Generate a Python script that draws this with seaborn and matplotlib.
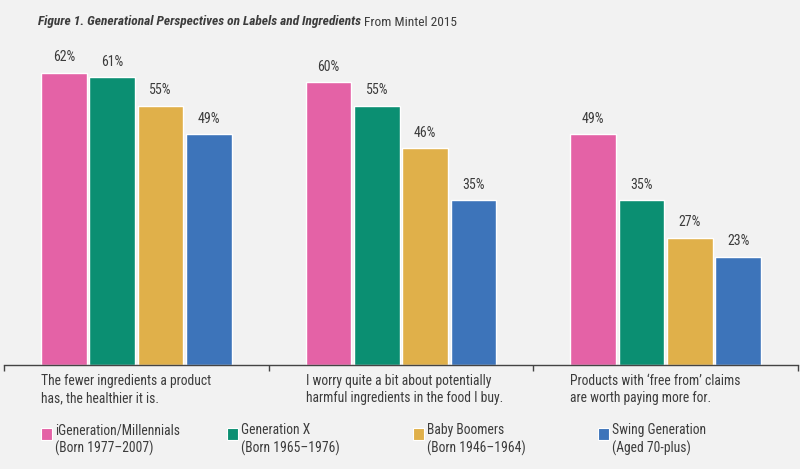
import matplotlib
matplotlib.use("Agg")
import matplotlib.pyplot as plt
import matplotlib.transforms as mtransforms
from matplotlib.patches import Rectangle
import pandas as pd
import seaborn as sns

statements = [
    "The fewer ingredients a product\nhas, the healthier it is.",
    "I worry quite a bit about potentially\nharmful ingredients in the food I buy.",
    "Products with \u2018free from\u2019 claims\nare worth paying more for.",
]
generations = ["iGeneration/Millennials", "Generation X", "Baby Boomers", "Swing Generation"]
gen_notes = ["(Born 1977\u20132007)", "(Born 1965\u20131976)", "(Born 1946\u20131964)", "(Aged 70-plus)"]
millennials = [62, 60, 49]
gen_x = [61, 55, 35]
boomers = [55, 46, 27]
swing = [49, 35, 23]
colors = ["#e462a6", "#0b8f72", "#e0b04a", "#3d74ba"]

rows = []
for gen, vals in zip(generations, [millennials, gen_x, boomers, swing]):
    for i, v in enumerate(vals):
        rows.append({"statement": i, "generation": gen, "pct": v})
df = pd.DataFrame(rows)

sns.set_style("white")
plt.rcParams["font.family"] = ["Roboto Condensed", "DejaVu Sans"]
txt = "#3c3c3c"
bg = "#f2f2f2"
fs = 9.8

fig = plt.figure(figsize=(8, 4.69), dpi=100, facecolor=bg)
ax = fig.add_axes([4 / 800, 104 / 469, 794 / 800, 330 / 469])
ax.set_facecolor(bg)

sns.barplot(data=df, x="statement", y="pct", hue="generation", hue_order=generations,
            palette=colors, saturation=1, width=0.73, gap=0.05,
            edgecolor="white", linewidth=1.0, legend=False, ax=ax)

for c in ax.containers:
    ax.bar_label(c, fmt="%d%%", padding=6, fontsize=10, color=txt)

ax.set_xlim(-0.5, 2.5)
ax.set_ylim(0, 70)
ax.set_xlabel("")
ax.set_ylabel("")
ax.set_yticks([])
ax.set_xticks([])
ax.set_xticks([-0.5, 0.5, 1.5, 2.5], minor=True)
ax.tick_params(axis="x", which="minor", bottom=True, direction="out",
               length=4, width=1, color="#444444")
for s in ["top", "left", "right"]:
    ax.spines[s].set_visible(False)
ax.spines["bottom"].set_color("#444444")
ax.spines["bottom"].set_linewidth(1)

trans = mtransforms.blended_transform_factory(ax.transData, fig.transFigure)
for i, s in enumerate(statements):
    ax.text(i - 0.36, 1 - 374 / 469, s, transform=trans, ha="left", va="top",
            fontsize=fs, color=txt, linespacing=1.3)

# legend
leg_x = [41, 227, 413, 598]
for x, gen, note, col in zip(leg_x, generations, gen_notes, colors):
    fig.patches.append(Rectangle((x / 800, 1 - 440 / 469), 11 / 800, 12 / 469,
                                 transform=fig.transFigure, facecolor=col,
                                 edgecolor="white", linewidth=0.8))
    fig.text((x + 14) / 800, 1 - 423 / 469, gen + "\n" + note, ha="left", va="top",
             fontsize=fs, color=txt, linespacing=1.3)

t1 = fig.text(38 / 800, 1 - 22 / 469, "Figure 1. Generational Perspectives on Labels and Ingredients",
              ha="left", va="center", fontsize=9.6, fontweight="bold", fontstyle="italic",
              color=txt)
fig.canvas.draw()
bb = t1.get_window_extent()
fig.text((bb.x1 + 3) / 800, 1 - 22 / 469, "From Mintel 2015", ha="left", va="center",
         fontsize=9.6, color=txt)

fig.savefig("out.png", dpi=100, facecolor=bg)
